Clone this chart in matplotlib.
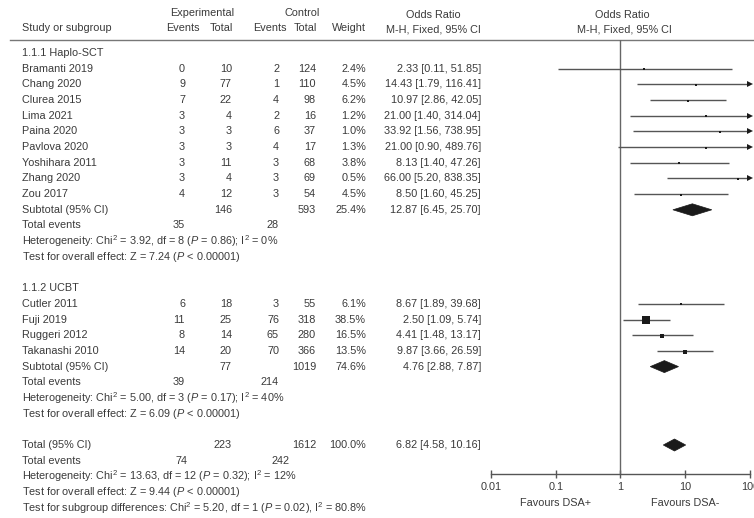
import matplotlib
matplotlib.use("Agg")
import matplotlib.pyplot as plt
from matplotlib.patches import Polygon
from matplotlib.ticker import FixedLocator, FixedFormatter, NullLocator

plt.rcParams["font.family"] = ["Liberation Sans", "DejaVu Sans"]
plt.rcParams["mathtext.fontset"] = "custom"
plt.rcParams["mathtext.rm"] = "Liberation Sans"
plt.rcParams["mathtext.it"] = "Liberation Sans:italic"
plt.rcParams["mathtext.bf"] = "Liberation Sans:bold"

# ---- 1.1.1 Haplo-SCT ----
studies_a = ["Bramanti 2019", "Chang 2020", "Clurea 2015", "Lima 2021", "Paina 2020",
             "Pavlova 2020", "Yoshihara 2011", "Zhang 2020", "Zou 2017"]
exp_events_a = [0, 9, 7, 3, 3, 3, 3, 3, 4]
exp_total_a = [10, 77, 22, 4, 3, 3, 11, 4, 12]
ctl_events_a = [2, 1, 4, 2, 6, 4, 3, 3, 3]
ctl_total_a = [124, 110, 98, 16, 37, 17, 68, 69, 54]
weight_a = [2.4, 4.5, 6.2, 1.2, 1.0, 1.3, 3.8, 0.5, 4.5]
or_a = [2.33, 14.43, 10.97, 21.00, 33.92, 21.00, 8.13, 66.00, 8.50]
lo_a = [0.11, 1.79, 2.86, 1.40, 1.56, 0.90, 1.40, 5.20, 1.60]
hi_a = [51.85, 116.41, 42.05, 314.04, 738.95, 489.76, 47.26, 838.35, 45.25]
subtotal_a = [12.87, 6.45, 25.70]          # OR, lower, upper
subtotal_n_a = [146, 593, 25.4]            # exp total, ctl total, weight
subtotal_events_a = [35, 28]
het_a = [3.92, 8, 0.86, 0]                 # Chi2, df, P, I2
z_a = 7.24

# ---- 1.1.2 UCBT ----
studies_b = ["Cutler 2011", "Fuji 2019", "Ruggeri 2012", "Takanashi 2010"]
exp_events_b = [6, 11, 8, 14]
exp_total_b = [18, 25, 14, 20]
ctl_events_b = [3, 76, 65, 70]
ctl_total_b = [55, 318, 280, 366]
weight_b = [6.1, 38.5, 16.5, 13.5]
or_b = [8.67, 2.50, 4.41, 9.87]
lo_b = [1.89, 1.09, 1.48, 3.66]
hi_b = [39.68, 5.74, 13.17, 26.59]
subtotal_b = [4.76, 2.88, 7.87]
subtotal_n_b = [77, 1019, 74.6]
subtotal_events_b = [39, 214]
het_b = [5.00, 3, 0.17, 40]
z_b = 6.09

# ---- Overall ----
total_or = [6.82, 4.58, 10.16]
total_n = [223, 1612, 100.0]
total_events = [74, 242]
het_total = [13.63, 12, 0.32, 12]
z_total = 9.44
subgroup_test = [5.20, 1, 0.02, 80.8]

axis_ticks = [0.01, 0.1, 1, 10, 100]
axis_tick_labels = ["0.01", "0.1", "1", "10", "100"]
favours = ["Favours DSA+", "Favours DSA-"]

W, H = 754, 518
TXT = "#3a3a3a"
FS = 7.8

fig = plt.figure(figsize=(W / 100, H / 100), dpi=100)
ax = fig.add_axes([0, 0, 1, 1])
ax.set_xlim(0, W)
ax.set_ylim(H, 0)
ax.axis("off")

# Forest panel shares the same vertical pixel scale as the table
fx0, fx1, fy0, fy1 = 491, 750, 40, 474
fax = fig.add_axes([fx0 / W, (H - fy1) / H, (fx1 - fx0) / W, (fy1 - fy0) / H])
fax.set_xscale("log")
fax.set_xlim(0.01, 100)
fax.set_ylim(fy1, fy0)
fax.patch.set_alpha(0)
for s in ("top", "left", "right"):
    fax.spines[s].set_visible(False)
fax.spines["bottom"].set_color("#555555")
fax.spines["bottom"].set_linewidth(1.0)
fax.yaxis.set_major_locator(NullLocator())
fax.xaxis.set_major_locator(FixedLocator(axis_ticks))
fax.xaxis.set_major_formatter(FixedFormatter(axis_tick_labels))
fax.xaxis.set_minor_locator(NullLocator())
fax.tick_params(axis="x", direction="inout", length=6, width=1.0, color="#555555",
                labelsize=FS, labelcolor=TXT, pad=3)
fax.axvline(1, color="#666666", lw=1.0)

# Column anchors (right-aligned numbers)
X_NAME, X_EEV, X_ETOT, X_CEV, X_CTOT, X_W, X_OR = 22, 185, 232, 279, 316, 366, 481


def row_y(k):
    return 53 + 15.68 * k


def t(x, y, s, ha="left", **kw):
    ax.text(x, y, s, ha=ha, va="center", fontsize=FS, color=TXT, **kw)


# Header
t(202, 13, "Experimental", ha="center")
t(302, 13, "Control", ha="center")
t(X_NAME, 28, "Study or subgroup")
t(183, 28, "Events", ha="center")
t(X_ETOT + 1, 28, "Total", ha="right")
t(270, 28, "Events", ha="center")
t(X_CTOT + 1, 28, "Total", ha="right")
t(X_W, 28, "Weight", ha="right")
t(433, 15, "Odds Ratio", ha="center")
t(433, 29, "M-H, Fixed, 95% CI", ha="center")
t(622, 15, "Odds Ratio", ha="center")
t(624, 29, "M-H, Fixed, 95% CI", ha="center")
ax.plot([10, W], [40, 40], color="#777777", lw=1.0)


def or_text(o, l, h):
    return f"{o:.2f} [{l:.2f}, {h:.2f}]"


def het_text(h):
    chi, df, p, i2 = h
    return (f"Heterogeneity: Chi$^2$ = {chi:.2f}, df = {df} ($P$ = {p:.2f}); "
            f"I$^2$ = {i2}%")


def study_rows(k0, names, eev, etot, cev, ctot, w, o, lo, hi):
    for i, name in enumerate(names):
        y = row_y(k0 + i)
        t(X_NAME, y, name)
        t(X_EEV, y, str(eev[i]), ha="right")
        t(X_ETOT, y, str(etot[i]), ha="right")
        t(X_CEV, y, str(cev[i]), ha="right")
        t(X_CTOT, y, str(ctot[i]), ha="right")
        t(X_W, y, f"{w[i]:.1f}%", ha="right")
        t(X_OR, y, or_text(o[i], lo[i], hi[i]), ha="right")
        # confidence interval, with an arrow when it runs past the axis
        right = min(hi[i], 100)
        fax.plot([max(lo[i], 0.01), right], [y, y], color="#555555", lw=1.0,
                 solid_capstyle="butt")
        if hi[i] > 100:
            fax.plot([100], [y], marker=">", ms=4.5, color="#1a1a1a",
                     markeredgewidth=0, clip_on=False)
        side_px = max(1.13 * w[i] ** 0.5, 2.4)
        fax.plot([o[i]], [y + 0.6], marker="s", ms=side_px * 0.72, color="#1a1a1a",
                 markeredgewidth=0, clip_on=False)


def diamond(y, o, lo, hi, half=6):
    fax.add_patch(Polygon([[lo, y], [o, y - half], [hi, y], [o, y + half]],
                          closed=True, facecolor="#1a1a1a", edgecolor="#1a1a1a",
                          lw=0.5))


# Group A
t(X_NAME, row_y(0), "1.1.1 Haplo-SCT")
study_rows(1, studies_a, exp_events_a, exp_total_a, ctl_events_a, ctl_total_a,
           weight_a, or_a, lo_a, hi_a)
y = row_y(10)
t(X_NAME, y, "Subtotal (95% CI)")
t(X_ETOT, y, str(subtotal_n_a[0]), ha="right")
t(X_CTOT, y, str(subtotal_n_a[1]), ha="right")
t(X_W, y, f"{subtotal_n_a[2]:.1f}%", ha="right")
t(X_OR, y, or_text(*subtotal_a), ha="right")
diamond(y, *subtotal_a)
y = row_y(11)
t(X_NAME, y, "Total events")
t(X_EEV, y, str(subtotal_events_a[0]), ha="right")
t(X_CEV, y, str(subtotal_events_a[1]), ha="right")
t(X_NAME, row_y(12), het_text(het_a))
t(X_NAME, row_y(13), f"Test for overall effect: Z = {z_a:.2f} ($P$ < 0.00001)")

# Group B
t(X_NAME, row_y(15), "1.1.2 UCBT")
study_rows(16, studies_b, exp_events_b, exp_total_b, ctl_events_b, ctl_total_b,
           weight_b, or_b, lo_b, hi_b)
y = row_y(20)
t(X_NAME, y, "Subtotal (95% CI)")
t(X_ETOT, y, str(subtotal_n_b[0]), ha="right")
t(X_CTOT, y, str(subtotal_n_b[1]), ha="right")
t(X_W, y, f"{subtotal_n_b[2]:.1f}%", ha="right")
t(X_OR, y, or_text(*subtotal_b), ha="right")
diamond(y, *subtotal_b)
y = row_y(21)
t(X_NAME, y, "Total events")
t(X_EEV, y, str(subtotal_events_b[0]), ha="right")
t(X_CEV, y, str(subtotal_events_b[1]), ha="right")
t(X_NAME, row_y(22), het_text(het_b))
t(X_NAME, row_y(23), f"Test for overall effect: Z = {z_b:.2f} ($P$ < 0.00001)")

# Overall
y = row_y(25)
t(X_NAME, y, "Total (95% CI)")
t(X_ETOT, y, str(total_n[0]), ha="right")
t(X_CTOT, y, str(total_n[1]), ha="right")
t(X_W, y, f"{total_n[2]:.1f}%", ha="right")
t(X_OR, y, or_text(*total_or), ha="right")
diamond(y, *total_or)
y = row_y(26)
t(X_NAME, y, "Total events")
t(X_EEV + 2, y, str(total_events[0]), ha="right")
t(X_CEV + 11, y, str(total_events[1]), ha="right")
t(X_NAME, row_y(27), het_text(het_total))
t(X_NAME, row_y(28), f"Test for overall effect: Z = {z_total:.2f} ($P$ < 0.00001)")
chi, df, p, i2 = subgroup_test
t(X_NAME, row_y(29), f"Test for subgroup differences: Chi$^2$ = {chi:.2f}, df = {df} "
                     f"($P$ = {p:.2f}), I$^2$ = {i2}%")

# Direction labels under the axis
fax.text(0.1, 503, favours[0], ha="center", va="center", fontsize=FS, color=TXT)
fax.text(10, 503, favours[1], ha="center", va="center", fontsize=FS, color=TXT)

fig.savefig("out.png", dpi=100)
